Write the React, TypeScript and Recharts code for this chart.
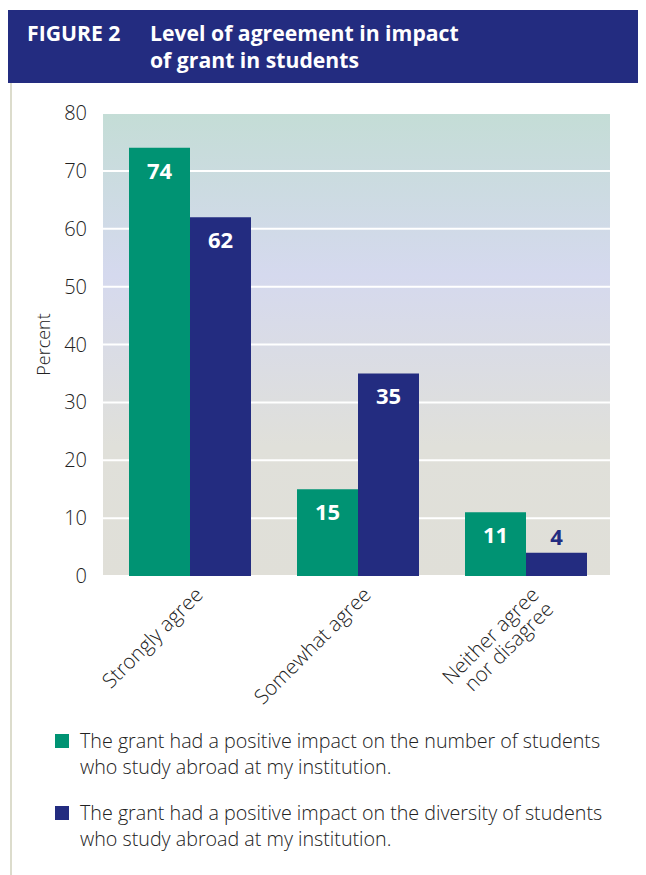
import { BarChart, Bar, XAxis, YAxis, CartesianGrid, LabelList } from "recharts";

const categories = ["Strongly agree", "Somewhat agree", "Neither agree\nnor disagree"];
const numberOfStudents = [74, 15, 11];
const diversityOfStudents = [62, 35, 4];
const yTicks = [0, 10, 20, 30, 40, 50, 60, 70, 80];
const seriesNames = [
  "The grant had a positive impact on the number of students\nwho study abroad at my institution.",
  "The grant had a positive impact on the diversity of students\nwho study abroad at my institution.",
];

const GREEN = "#009373";
const NAVY = "#232c80";
const FONT = "'Open Sans', 'Noto Sans', sans-serif";

const data = categories.map((c, i) => ({
  name: c,
  number: numberOfStudents[i],
  diversity: diversityOfStudents[i],
}));

function CategoryTick(props: any) {
  const { x, y, payload } = props;
  const lines = String(payload.value).split("\n");
  return (
    <g transform={`translate(${x + 4},${y + 2})`}>
      <text
        transform="rotate(-45)"
        textAnchor="end"
        fill="#222"
        fontSize={20.5}
        fontWeight={300}
        fontFamily={FONT}
      >
        {lines.map((l, i) => (
          <tspan key={i} x={0} dy={i === 0 ? "0.7em" : "1.0em"}>
            {l}
          </tspan>
        ))}
      </text>
    </g>
  );
}

function ValueLabel(props: any) {
  const { x, y, width, value } = props;
  const cx = x + width / 2;
  const small = value < 8;
  return (
    <text
      x={cx}
      y={small ? y - 8 : y + 31}
      textAnchor="middle"
      fill={small ? NAVY : "#fff"}
      fontSize={22}
      fontWeight={700}
      fontFamily={FONT}
    >
      {value}
    </text>
  );
}

export default function App() {
  return (
    <div style={{ position: "relative", width: 646, height: 875, margin: "-8px 0 0 -8px", background: "#fff", fontFamily: FONT }}>
      <div style={{ position: "absolute", left: 8, top: 10, width: 638, height: 73, background: NAVY, color: "#fff" }}>
        <div style={{ position: "absolute", left: 19, top: 9, fontSize: 21.2, fontWeight: 700, lineHeight: "27px" }}>FIGURE 2</div>
        <div style={{ position: "absolute", left: 142, top: 9, fontSize: 21.2, fontWeight: 700, lineHeight: "27px" }}>
          Level of agreement in impact
          <br />
          of grant in students
        </div>
      </div>
      <div style={{ position: "absolute", left: 10, top: 83, width: 2, height: 792, background: "#dcdccc" }} />
      <div style={{ position: "absolute", left: 0, top: 0 }}>
        <BarChart
          width={646}
          height={720}
          data={data}
          margin={{ top: 113, right: 36, bottom: 44, left: 38 }}
          barCategoryGap="14%"
          barGap={0}
        >
          <defs>
            <linearGradient id="bgGrad" x1="0" y1="0" x2="0" y2="1">
              <stop offset="0%" stopColor="#c4ddd6" />
              <stop offset="35%" stopColor="#d5d9ee" />
              <stop offset="72%" stopColor="#e0e0da" />
              <stop offset="100%" stopColor="#e0dfd8" />
            </linearGradient>
          </defs>
          <CartesianGrid vertical={false} stroke="#fff" strokeWidth={2} fill="url(#bgGrad)" fillOpacity={1} />
          <XAxis
            dataKey="name"
            axisLine={false}
            tickLine={false}
            interval={0}
            height={100}
            padding={{ left: 3, right: 0 }}
            tick={<CategoryTick />}
          />
          <YAxis
            domain={[0, 80]}
            ticks={yTicks}
            axisLine={false}
            tickLine={false}
            width={65}
            tickMargin={10}
            tick={{ fill: "#222", fontSize: 20, fontWeight: 300, fontFamily: FONT }}
            label={{
              value: "Percent",
              angle: -90,
              position: "insideLeft",
              offset: 0,
              dx: 6,
              style: { fill: "#222", fontSize: 18, fontWeight: 300, fontFamily: FONT, textAnchor: "middle" },
            }}
          />
          <Bar dataKey="number" fill={GREEN} barSize={61} isAnimationActive={false}>
            <LabelList dataKey="number" content={<ValueLabel />} />
          </Bar>
          <Bar dataKey="diversity" fill={NAVY} barSize={61} isAnimationActive={false}>
            <LabelList dataKey="diversity" content={<ValueLabel />} />
          </Bar>
        </BarChart>
      </div>
      {seriesNames.map((s, i) => (
        <div key={i} style={{ position: "absolute", left: 55, top: 728 + i * 72, display: "flex", alignItems: "flex-start" }}>
          <div style={{ width: 14, height: 14, marginTop: 6, background: i === 0 ? GREEN : NAVY }} />
          <div style={{ marginLeft: 11, fontSize: 19.7, fontWeight: 300, lineHeight: "26px", color: "#222", whiteSpace: "pre-line" }}>
            {s}
          </div>
        </div>
      ))}
    </div>
  );
}
